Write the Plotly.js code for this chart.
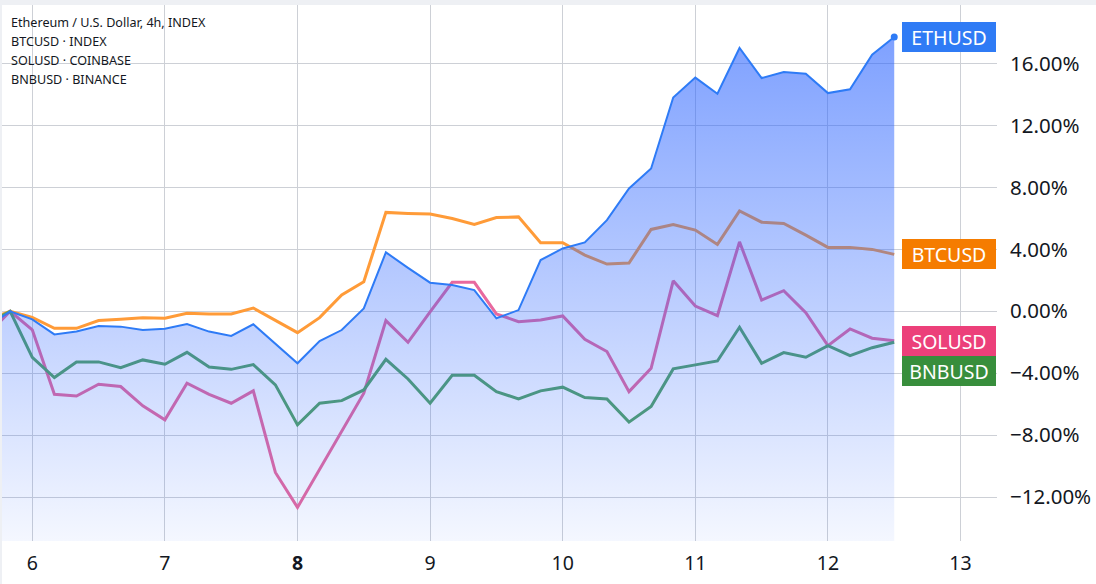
<!DOCTYPE html>
<html>
<head>
<meta charset="utf-8">
<script src="https://cdn.plot.ly/plotly-3.0.1.min.js"></script>
<style>html,body{margin:0;padding:0;background:#fff;}#chart{width:1096px;height:584px;}</style>
</head>
<body>
<div id="chart"></div>
<script>
// time in hours (4h bars), day N starts at N*24
const hours = [136,140,144,148,152,156,160,164,168,172,176,180,184,188,192,196,200,204,208,212,216,220,224,228,232,236,240,244,248,252,256,260,264,268,272,276,280,284,288,292,296,300];

const ethusd = [-0.95,0,-0.52,-1.49,-1.31,-0.95,-0.99,-1.21,-1.12,-0.82,-1.31,-1.59,-0.84,-2.07,-3.36,-1.92,-1.21,0.19,3.81,2.81,1.85,1.70,1.37,-0.45,0.08,3.31,4.06,4.45,5.89,7.94,9.23,13.81,15.10,14.06,17.01,15.07,15.46,15.35,14.10,14.34,16.58,17.72];
const btcusd = [-0.53,0,-0.39,-1.10,-1.10,-0.60,-0.52,-0.41,-0.45,-0.13,-0.17,-0.17,0.21,-0.56,-1.38,-0.41,1.05,1.91,6.39,6.32,6.28,6.00,5.61,6.06,6.10,4.43,4.43,3.63,3.05,3.12,5.29,5.61,5.25,4.32,6.49,5.76,5.68,4.92,4.13,4.13,4.00,3.68];
const solusd = [-1.46,0,-1.20,-5.36,-5.47,-4.71,-4.86,-6.11,-7.01,-4.65,-5.36,-5.94,-5.14,-10.41,-12.67,-10.24,-7.77,-5.29,-0.60,-2.00,-0.03,1.87,1.87,-0.17,-0.67,-0.56,-0.30,-1.81,-2.60,-5.19,-3.68,1.97,0.34,-0.28,4.49,0.73,1.33,-0.09,-2.22,-1.14,-1.74,-1.90];
const bnbusd = [-0.75,0,-2.97,-4.28,-3.27,-3.27,-3.64,-3.14,-3.42,-2.65,-3.60,-3.75,-3.44,-4.75,-7.34,-5.94,-5.77,-5.08,-3.10,-4.37,-5.94,-4.13,-4.13,-5.19,-5.66,-5.14,-4.90,-5.57,-5.66,-7.16,-6.15,-3.72,-3.46,-3.21,-1.03,-3.36,-2.67,-2.97,-2.22,-2.86,-2.35,-2.00];

const xTickVals = [144,168,192,216,240,264,288,312];
const xTickText = ['6','7','<b>8</b>','9','10','11','12','13'];
const yTickVals = [16,12,8,4,0,-4,-8,-12];
const yTickText = ['16.00%','12.00%','8.00%','4.00%','0.00%','\u22124.00%','\u22128.00%','\u221212.00%'];
const headerLines = ['Ethereum / U.S. Dollar, 4h, INDEX','BTCUSD \u00b7 INDEX','SOLUSD \u00b7 COINBASE','BNBUSD \u00b7 BINANCE'];

const Y_RANGE = [-14.84, 19.79];
const X_RANGE = [138.52, 318.6];
const FONT = '"Noto Sans", "Open Sans", sans-serif';

const last = a => a[a.length - 1];
const ethMax = Math.max.apply(null, ethusd);

const traces = [
  {x: hours, y: btcusd, type: 'scatter', mode: 'lines', line: {color: '#FF9B38', width: 3}, hoverinfo: 'skip'},
  {x: hours, y: solusd, type: 'scatter', mode: 'lines', line: {color: '#E8699E', width: 3}, hoverinfo: 'skip'},
  {x: hours, y: bnbusd, type: 'scatter', mode: 'lines', line: {color: '#54A363', width: 3}, hoverinfo: 'skip'},
  {x: hours, y: hours.map(() => Y_RANGE[0]), type: 'scatter', mode: 'lines', line: {width: 0, color: 'rgba(0,0,0,0)'}, hoverinfo: 'skip'},
  {x: hours, y: ethusd, type: 'scatter', mode: 'lines', fill: 'tonexty',
   fillgradient: {type: 'vertical', start: Y_RANGE[0], stop: ethMax,
     colorscale: [[0, 'rgba(41,98,255,0.05)'], [1, 'rgba(41,98,255,0.6)']]},
   line: {color: '#2E7BF6', width: 2}, hoverinfo: 'skip'},
  {x: [last(hours)], y: [last(ethusd)], type: 'scatter', mode: 'markers', marker: {color: '#2E7BF6', size: 7}, hoverinfo: 'skip'}
];

function tag(text, yv, color) {
  return {xref: 'paper', yref: 'y', x: 0.9045, y: yv, xanchor: 'left', yanchor: 'middle',
    text: text, showarrow: false, bgcolor: color, width: 92, height: 28, borderpad: 1, borderwidth: 0,
    font: {family: FONT, size: 19.5, color: '#ffffff'}, align: 'center'};
}
const solTagY = last(solusd);
const bnbTagY = Math.min(last(bnbusd), solTagY - 1.98);

const annotations = [
  tag('ETHUSD', last(ethusd), '#2F7BF5'),
  tag('BTCUSD', last(btcusd), '#F57C00'),
  tag('SOLUSD', solTagY, '#EC407A'),
  tag('BNBUSD', bnbTagY, '#388E3C')
];
const headerY = [0.967, 0.9314, 0.8959, 0.8614];
headerLines.forEach((t, i) => annotations.push({xref: 'paper', yref: 'paper', x: 0.007, y: headerY[i],
  xanchor: 'left', yanchor: 'middle', text: t, showarrow: false,
  font: {family: FONT, size: 12.6, color: '#131722'}}));

const layout = {
  width: 1096, height: 584,
  margin: {l: 2, r: 99, t: 5, b: 43, pad: 0},
  paper_bgcolor: '#ffffff', plot_bgcolor: '#ffffff',
  showlegend: false,
  xaxis: {range: X_RANGE, tickvals: xTickVals, ticktext: xTickText, showgrid: true, gridcolor: '#cdd0d6',
    gridwidth: 1, zeroline: false, showline: false, ticks: '', ticklabelstandoff: 8,
    tickfont: {family: FONT, size: 19.5, color: '#131722'}, fixedrange: true},
  yaxis: {range: Y_RANGE, side: 'right', tickvals: yTickVals, ticktext: yTickText, showgrid: true,
    gridcolor: '#cdd0d6', gridwidth: 1, zeroline: false, showline: false, ticks: '', ticklabelstandoff: 12,
    tickfont: {family: FONT, size: 20.5, color: '#131722'}, fixedrange: true},
  shapes: [
    {type: 'rect', xref: 'paper', yref: 'paper', x0: -0.01, x1: 1.2, y0: 1, y1: 1.02, fillcolor: '#eef0f4', line: {width: 0}, layer: 'above'},
    {type: 'rect', xref: 'paper', yref: 'paper', x0: -0.01, x1: 0, y0: -0.2, y1: 1.02, fillcolor: '#eef0f4', line: {width: 0}, layer: 'above'}
  ],
  annotations: annotations
};

Plotly.newPlot('chart', traces, layout, {displayModeBar: false, staticPlot: true});
</script>
</body>
</html>
